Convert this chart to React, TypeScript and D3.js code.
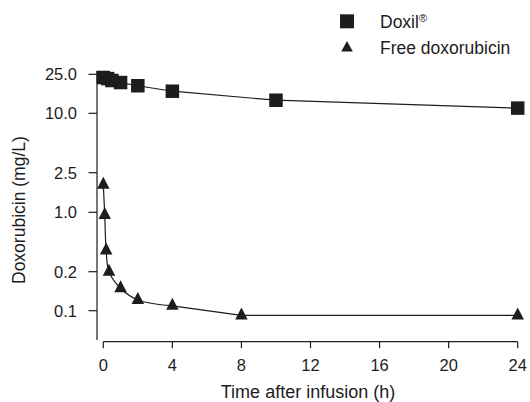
import React from "react";
import * as d3 from "d3";

const doxilTimes = [0, 0.25, 0.5, 1, 2, 4, 10, 24];
const doxilValues = [23.2, 22.6, 21.6, 20.6, 19.1, 16.8, 13.6, 11.3];
const freeTimes = [0, 0.083, 0.167, 0.33, 1, 2, 4, 8, 24];
const freeValues = [1.89, 0.93, 0.355, 0.2, 0.149, 0.121, 0.109, 0.092, 0.092];
const xTicks = [0, 4, 8, 12, 16, 20, 24];
const yTicks = [0.1, 0.2, 1.0, 2.5, 10.0, 25.0];
const seriesNames = ["Doxil", "Free doxorubicin"];

const W = 530;
const H = 402;
const FONT = "'Liberation Sans', Arial, Helvetica, sans-serif";
const INK = "#1e1c1d";

export default function App() {
  const x = d3.scaleLinear().domain([0, 24]).range([103.3, 517.7]);
  // axis with unevenly spaced labelled ticks (piecewise log)
  const y = d3
    .scaleLog()
    .domain(yTicks)
    .range([310.7, 271.7, 212.3, 172.7, 113.3, 74.3]);

  const lineLin = d3
    .line<[number, number]>()
    .x((d) => x(d[0]))
    .y((d) => y(d[1]));
  const lineSmooth = d3
    .line<[number, number]>()
    .x((d) => x(d[0]))
    .y((d) => y(d[1]))
    .curve(d3.curveCatmullRom.alpha(0.5));

  const doxil = doxilTimes.map((t, i) => [t, doxilValues[i]] as [number, number]);
  const free = freeTimes.map((t, i) => [t, freeValues[i]] as [number, number]);

  const sq = 13.5;
  const tri = (cx: number, cy: number, w = 12.5, h = 12) =>
    `M${cx},${cy - (2 * h) / 3}L${cx + w / 2},${cy + h / 3}L${cx - w / 2},${cy + h / 3}Z`;

  const xAxisY = 341.7;
  const yAxisX = 97;

  return (
    <svg width={W} height={H} style={{ position: "absolute", left: 0, top: 0, background: "#fff" }} fontFamily={FONT}>
      <rect x={0} y={0} width={W} height={H} fill="#fff" />
      {/* Y axis */}
      <line x1={yAxisX} x2={yAxisX} y1={71} y2={340} stroke={INK} strokeWidth={1.2} />
      {yTicks.map((t) => (
        <g key={t}>
          <line x1={88.5} x2={yAxisX} y1={y(t)} y2={y(t)} stroke={INK} strokeWidth={1.2} />
          <text x={77} y={y(t)} dy="0.36em" textAnchor="end" fontSize={16.5} fill={INK}>
            {t.toFixed(1)}
          </text>
        </g>
      ))}
      <text
        transform={`translate(25,284) rotate(-90)`}
        textAnchor="start"
        fontSize={17.5}
        fill={INK}
      >
        Doxorubicin (mg/L)
      </text>
      {/* X axis */}
      <line x1={x(0)} x2={x(24)} y1={xAxisY} y2={xAxisY} stroke={INK} strokeWidth={1.2} />
      {xTicks.map((t) => (
        <g key={t}>
          <line x1={x(t)} x2={x(t)} y1={xAxisY} y2={xAxisY + 6.5} stroke={INK} strokeWidth={1.2} />
          <text x={x(t)} y={371} textAnchor="middle" fontSize={16.5} fill={INK}>
            {t}
          </text>
        </g>
      ))}
      <text x={308} y={398} textAnchor="middle" fontSize={18} fill={INK}>
        Time after infusion (h)
      </text>
      {/* Lines */}
      <path d={lineLin(doxil) || ""} fill="none" stroke={INK} strokeWidth={1.2} />
      <path d={lineSmooth(free.slice(0, 7)) || ""} fill="none" stroke={INK} strokeWidth={1.2} />
      <path d={lineLin(free.slice(6)) || ""} fill="none" stroke={INK} strokeWidth={1.2} />
      {/* Markers */}
      {doxil.map((d, i) => (
        <rect key={i} x={x(d[0]) - sq / 2} y={y(d[1]) - sq / 2} width={sq} height={sq} fill={INK} />
      ))}
      {free.map((d, i) => (
        <path key={i} d={tri(x(d[0]), y(d[1]))} fill={INK} />
      ))}
      {/* Legend */}
      <rect x={340} y={14.3} width={14} height={14} fill={INK} />
      <text x={380} y={27.5} fontSize={17.5} fill={INK}>
        {seriesNames[0]}
        <tspan fontSize={11} dy={-6}>®</tspan>
      </text>
      <path d={tri(347, 48, 11.5, 10.5)} fill={INK} />
      <text x={380} y={54} fontSize={17.5} fill={INK}>
        {seriesNames[1]}
      </text>
    </svg>
  );
}
